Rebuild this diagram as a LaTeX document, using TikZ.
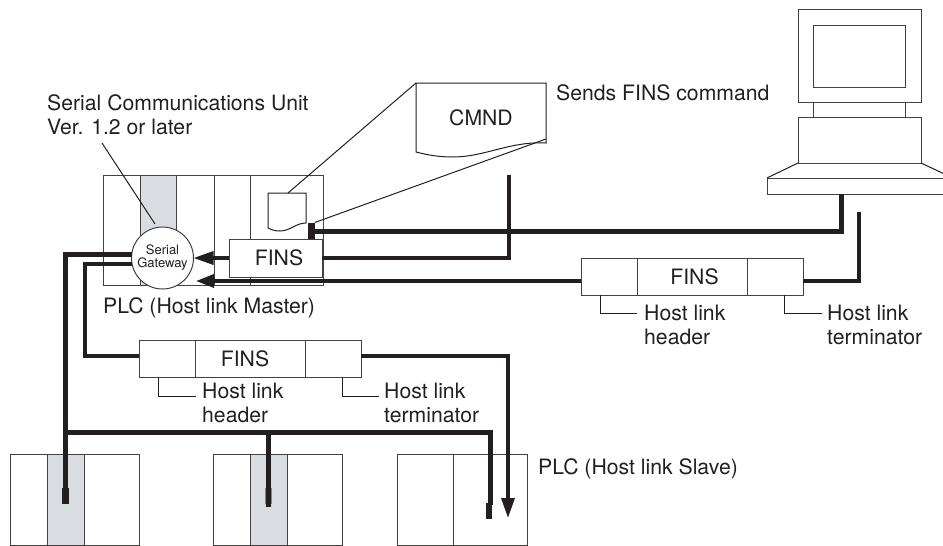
\documentclass[tikz,border=0pt]{standalone}
\usepackage{fontspec}
\setmainfont{TeX Gyre Heros}
\usepackage{tikz}
\usetikzlibrary{arrows.meta, positioning}
\definecolor{ink}{HTML}{231F20}
\definecolor{unitgrey}{HTML}{D9DCE1}
\newcommand{\lblfont}{\fontsize{21.2}{24}\selectfont}

\begin{document}
\begin{tikzpicture}[
  x=1pt, y=-1pt,
  every node/.style={text=ink},
  lbl/.style={anchor=base west, inner sep=0pt, align=left, font=\lblfont},
  unit/.style={rectangle, draw=ink!85, line width=1pt, inner sep=0pt, outer sep=0pt, fill=white},
  slot/.style={unit, fill=unitgrey},
  cell/.style={unit, minimum height=37, font=\lblfont},
  stub/.style={rectangle, fill=ink, inner sep=0pt, outer sep=0pt, minimum width=6.5, minimum height=16},
  hair/.style={line width=1pt, draw=ink},
  medwire/.style={line width=3.4pt, draw=ink},
  busw/.style={line width=5pt, draw=ink},
  arrow/.style={medwire, -{Triangle[length=20pt, width=13pt]}},
  node distance=0pt
]
\useasboundingbox (0,0) rectangle (943,546);

% PLC master
\node[unit, minimum width=37, minimum height=110, anchor=west] (m1) at (103,230) {};
\node[slot, minimum width=36, minimum height=110, right=of m1] (m2) {};
\node[unit, minimum width=38, minimum height=110, right=of m2] (m3) {};
\node[unit, minimum width=36, minimum height=110, right=of m3] (m4) {};
\node[unit, minimum width=73, minimum height=110, right=of m4] (m5) {};
\node[lbl] (mastertxt) at (103,313) {PLC (Host link Master)};

% small document
\draw[hair, fill=white] (268,193) -- (306,193) -- (306,223)
  .. controls (296,223) and (290,231) .. (280,231) .. controls (275,231) and (272,230) .. (268,228) -- cycle;
\coordinate (smalltop) at (288,193);
\node[stub, minimum height=17] (cmdstub) at (311.5,231) {};

% big document
\draw[hair] (416,83) -- (546,83) -- (546,143)
  .. controls (510,141) and (485,157) .. (453,157) .. controls (438,157) and (428,155) .. (416,152) -- cycle;
\node[font=\lblfont, inner sep=0pt] (cmnd) at (481,118) {CMND};
\coordinate (bigleft) at (416,83);
\coordinate (bigright) at (546,139);
\draw[hair] (smalltop) -- (bigleft);
\draw[hair] (cmdstub.north east) -- (bigright);
\node[lbl] (sendstxt) at (556,100) {Sends FINS command};

% leader to the gateway unit
\node[lbl] (unittxt) at (47,134) {Serial Communications Unit\\Ver. 1.2 or later};
\coordinate (leadtop) at (102,143);
\coordinate (leadend) at (155,224);
\draw[hair] (leadtop) -- (leadend);

% FINS inside PLC
\node[cell, minimum width=93, minimum height=38] (cmdfins) at (275.5,258) {\hspace*{7pt}FINS};
\node[unit, circle, minimum size=62, align=center, font=\fontsize{13}{13}\selectfont] (gateway) at (162.5,258) {Serial\\Gateway};

% computer
\node[unit, minimum width=123, minimum height=93, anchor=north west] (monitor) at (798,9) {};
\node[unit, minimum width=92, minimum height=62, anchor=north west] (screen) at (813,25) {};
\node[unit, minimum width=92, minimum height=15, below=of monitor] (neck) {};
\node[unit, minimum width=123, minimum height=46, below=of neck] (case) {};
\node[unit, minimum width=186, minimum height=16, anchor=north west] (keys) at (767,178) {};
\draw[hair] (case.south west) -- (keys.north west);
\draw[hair] (case.south east) -- (keys.north east);

% packet on the upper link
\node[cell, minimum width=56, anchor=west] (hdrA) at (581,276.5) {};
\node[cell, minimum width=110, right=of hdrA] (finsA) {\hspace*{5pt}FINS};
\node[cell, minimum width=56, right=of finsA] (endA) {};
\draw[hair] (hdrA.south west) ++(19,0) coordinate (hdrAtick) |- ++(37,18) coordinate (hdrAend);
\draw[hair] (endA.south west) ++(37,0) coordinate (endAtick) |- ++(38,18) coordinate (endAend);
\node[lbl] (hdrAtxt) at (644,344) {Host link\\header};
\node[lbl] (endAtxt) at (827,344) {Host link\\terminator};

% packet on the lower link
\node[cell, minimum width=56, anchor=west] (hdrB) at (139,358.5) {};
\node[cell, minimum width=110, right=of hdrB] (finsB) {FINS\hspace*{10pt}};
\node[cell, minimum width=56, right=of finsB] (endB) {};
\draw[hair] (hdrB.south west) ++(19,0) coordinate (hdrBtick) |- ++(38,19) coordinate (hdrBend);
\draw[hair] (endB.south west) ++(37,0) coordinate (endBtick) |- ++(37,19) coordinate (endBend);
\node[lbl] (hdrBtxt) at (202,422) {Host link\\header};
\node[lbl] (endBtxt) at (384,422) {Host link\\terminator};

% PLC slaves
\node[unit, minimum width=37, minimum height=91, anchor=north west] (a1) at (10,454) {};
\node[slot, minimum width=37, minimum height=91, right=of a1] (a2) {};
\node[unit, minimum width=55, minimum height=91, right=of a2] (a3) {};
\node[unit, minimum width=37, minimum height=91, anchor=north west] (b1) at (213,454) {};
\node[slot, minimum width=37, minimum height=91, right=of b1] (b2) {};
\node[unit, minimum width=55, minimum height=91, right=of b2] (b3) {};
\node[unit, minimum width=56, minimum height=91, anchor=north west] (c1) at (397,454) {};
\node[unit, minimum width=74, minimum height=91, right=of c1] (c2) {};
\node[lbl] (slavetxt) at (538,474) {PLC (Host link Slave)};

% wiring
\coordinate (pctap) at (841,194);
\coordinate (pcsend) at (859,212);
\coordinate (finstop) at (509,175);
\coordinate (mastertip) at (196,281);
\coordinate (slavetip) at (508,518);
\coordinate (lowdrop) at (85,356);
\node[stub] (tapa) at (65.5,495.5) {};
\node[stub, fill=ink!55] (tapb) at (268.5,496) {};
\node[stub] (tapc) at (489,511) {};
\coordinate (busjoin) at (66,432);
\coordinate (tapbend) at (268.5,507);
\coordinate (tapcend) at (490.5,505);

\draw[busw] (pctap) |- (cmdstub.east);
\draw[medwire] (cmdfins.east) -| (finstop);
\draw[medwire] (pcsend) |- (mastertip -| endA.east);
\draw[arrow, -{Triangle[length=18pt, width=13pt]}] (mastertip -| hdrA.west) -- (mastertip);
\draw[arrow] (cmdfins.west) -- (gateway.east);
\draw[busw] (gateway.174) -| (tapa.north);
\draw[medwire] (gateway.191) -| (lowdrop) -- (lowdrop -| hdrB.west);
\draw[arrow] (lowdrop -| endB.east) -| (slavetip);
\draw[busw] (busjoin) -| (tapcend);
\draw[busw] (busjoin -| tapb) -- (tapbend);
\end{tikzpicture}
\end{document}
